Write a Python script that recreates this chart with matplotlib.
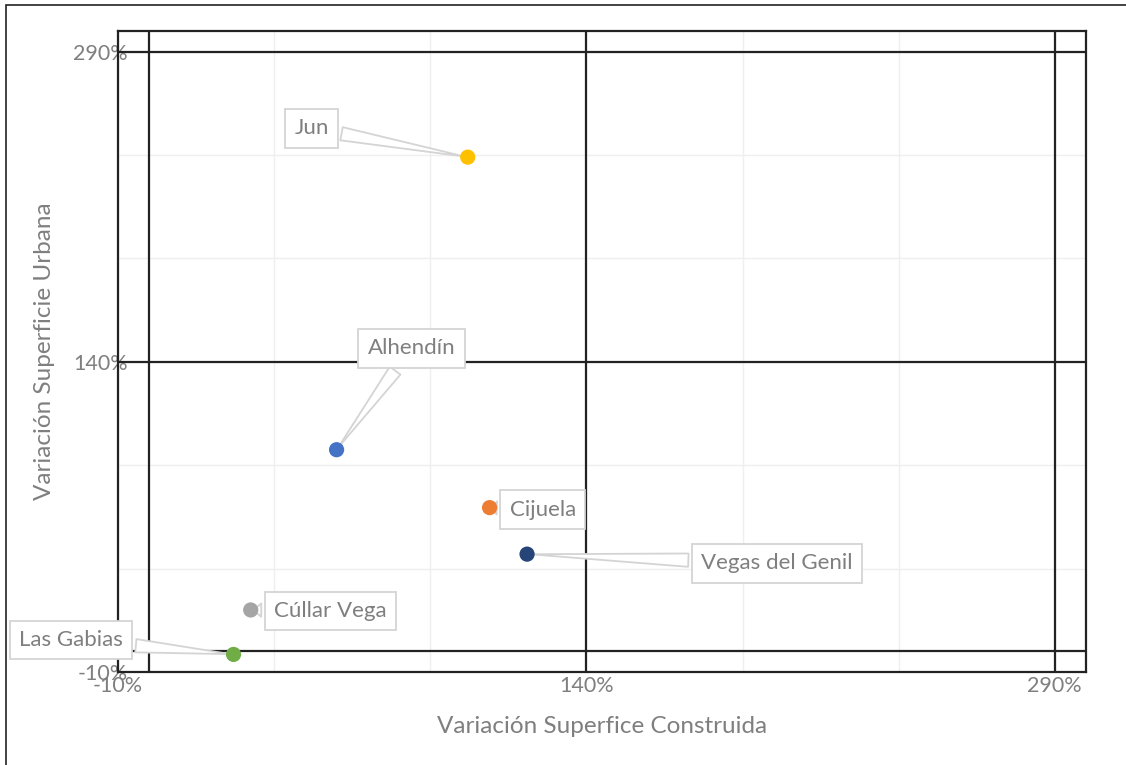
import numpy as np
import matplotlib.pyplot as plt
from matplotlib.patches import Rectangle

# data (variation %)
municipios = ["Jun", "Alhendín", "Cijuela", "Vegas del Genil", "Cúllar Vega", "Las Gabias"]
var_construida = [102, 60, 109, 121, 32.5, 27]
var_urbana = [239, 97.5, 69.5, 47, 20, -1.5]
colores = ["#FFC000", "#4472C4", "#ED7D31", "#264478", "#A5A5A5", "#70AD47"]

# where each callout box sits (data coords)
label_pos = [(52, 253), (84, 146.5), (126, 68.5), (201, 42.5), (58, 19.5), (-25, 5.5)]

gris = "#7f7f7f"
plt.rcParams['font.family'] = ['Lato', 'DejaVu Sans']

fig = plt.figure(figsize=(11.26, 7.65), dpi=100)
ax = fig.add_axes([118 / 1126, 1 - 672 / 765, (1086 - 118) / 1126, (672 - 31) / 765])

ax.set_xlim(-10, 300)
ax.set_ylim(-10, 300)

ax.set_xticks([-10, 140, 290])
ax.set_yticks([-10, 140, 290])
ax.set_xticks([40, 90, 190, 240], minor=True)
ax.set_yticks([40, 90, 190, 240], minor=True)
ax.set_xticklabels(["%d%%" % v for v in [-10, 140, 290]])
ax.set_yticklabels(["%d%%" % v for v in [-10, 140, 290]])
ax.tick_params(which="both", length=0, labelsize=15.5, labelcolor=gris)
ax.tick_params(axis="y", pad=-7)
ax.tick_params(axis="x", pad=3)
ax.grid(which="both", color="#efefef", lw=1, zorder=0)
ax.set_axisbelow(True)

for s in ax.spines.values():
    s.set_color("#222222")
    s.set_linewidth(1.6)

for v in [0, 140, 290]:
    ax.axvline(v, color="#222222", lw=1.6, zorder=1)
    ax.axhline(v, color="#222222", lw=1.6, zorder=1)

ax.scatter(var_construida, var_urbana, s=120, c=colores, zorder=5, edgecolors="none")

for nom, x, y, (tx, ty) in zip(municipios, var_construida, var_urbana, label_pos):
    ax.annotate(nom, xy=(x, y), xytext=(tx, ty), ha="center", va="center",
                fontsize=16, color=gris, annotation_clip=False, zorder=4,
                bbox=dict(boxstyle="square,pad=0.42", fc="white", ec="#d4d4d4", lw=1.3),
                arrowprops=dict(arrowstyle="wedge,tail_width=0.6,shrink_factor=0.5",
                                fc="white", ec="#d4d4d4", lw=1.3))

ax.set_xlabel("Variación Superfice Construida", fontsize=17.5, color=gris, labelpad=14)
ax.set_ylabel("Variación Superficie Urbana", fontsize=17.5, color=gris)
ax.yaxis.set_label_coords((55 - 118) / 968, 0.5)

fig.patches.append(Rectangle((6 / 1126, -0.02), 1.1, 1.02 - 5 / 765, transform=fig.transFigure,
                             fill=False, ec="#222222", lw=1.2))

fig.savefig("out.png", dpi=100)
